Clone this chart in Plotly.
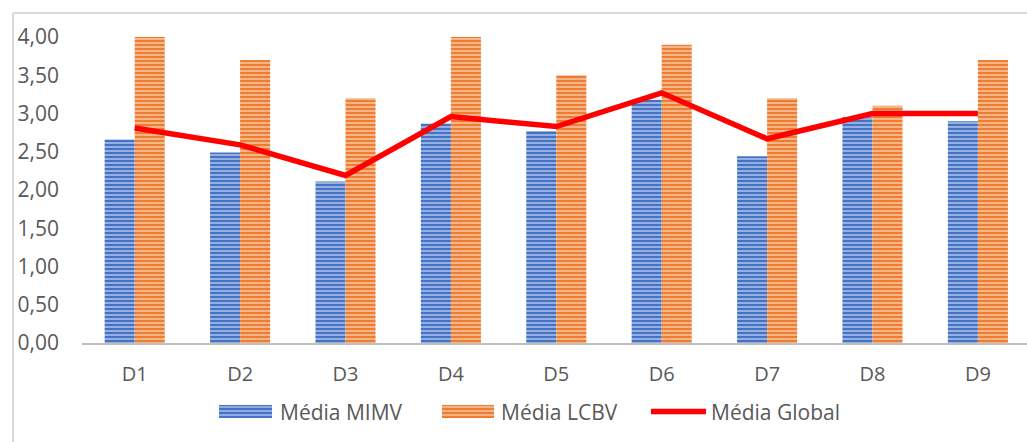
import plotly.graph_objects as go

# Category labels and series values
categorias = ["D1", "D2", "D3", "D4", "D5", "D6", "D7", "D8", "D9"]
media_mimv = [2.66, 2.49, 2.11, 2.87, 2.77, 3.18, 2.44, 2.95, 2.90]
media_lcbv = [4.00, 3.70, 3.20, 4.00, 3.50, 3.90, 3.20, 3.10, 3.70]
media_global = [2.81, 2.59, 2.19, 2.96, 2.83, 3.27, 2.67, 3.00, 3.00]
y_ticks = [0, 0.5, 1.0, 1.5, 2.0, 2.5, 3.0, 3.5, 4.0]

W, H = 1027, 442
ML, MR, MT, MB = 82, 0, 37, 99

BLUE, BLUE_LIGHT = "#4472C4", "#A9BFE8"
ORANGE, ORANGE_LIGHT = "#ED7D31", "#F7C4A0"
RED = "#FF0000"
TEXT = "#595959"
FONT = "Open Sans"


def px_x(p):
    return (p - ML) / (W - ML - MR)


def px_y(p):
    return (H - MB - p) / (H - MT - MB)


fig = go.Figure()
fig.add_trace(go.Bar(
    x=categorias, y=media_mimv, name="Média MIMV",
    marker=dict(color=BLUE, line=dict(width=0),
                pattern=dict(shape="-", fgcolor=BLUE_LIGHT, bgcolor=BLUE,
                             size=4, solidity=0.4, fillmode="replace")),
))
fig.add_trace(go.Bar(
    x=categorias, y=media_lcbv, name="Média LCBV",
    marker=dict(color=ORANGE, line=dict(width=0),
                pattern=dict(shape="-", fgcolor=ORANGE_LIGHT, bgcolor=ORANGE,
                             size=4, solidity=0.4, fillmode="replace")),
))
fig.add_trace(go.Scatter(
    x=categorias, y=media_global, name="Média Global", mode="lines",
    line=dict(color=RED, width=5.5),
))

shapes = []
# outer chart frame (top and left edges)
frame = dict(type="line", xref="paper", yref="paper",
             line=dict(color="#D9D9D9", width=2), layer="below")
shapes.append(dict(frame, x0=px_x(13), x1=px_x(W + 5), y0=px_y(13), y1=px_y(13)))
shapes.append(dict(frame, x0=px_x(13), x1=px_x(13), y0=px_y(13), y1=px_y(H + 5)))

# legend swatches
def striped_swatch(x0, x1, y0, y1, base, light):
    out = [dict(type="rect", xref="paper", yref="paper",
                x0=px_x(x0), x1=px_x(x1), y0=px_y(y0), y1=px_y(y1),
                fillcolor=base, line=dict(width=0))]
    yy = y0 + 2
    while yy < y1:
        out.append(dict(type="line", xref="paper", yref="paper",
                        x0=px_x(x0), x1=px_x(x1), y0=px_y(yy), y1=px_y(yy),
                        line=dict(color=light, width=1.5)))
        yy += 4
    return out

LEG_Y0, LEG_Y1 = 405, 418
shapes += striped_swatch(219, 272, LEG_Y0, LEG_Y1, BLUE, BLUE_LIGHT)
shapes += striped_swatch(442, 494, LEG_Y0, LEG_Y1, ORANGE, ORANGE_LIGHT)
shapes.append(dict(type="line", xref="paper", yref="paper",
                   x0=px_x(651), x1=px_x(706), y0=px_y(411.5), y1=px_y(411.5),
                   line=dict(color=RED, width=5.5)))

annotations = []
for label, xp in [("Média MIMV", 278), ("Média LCBV", 499), ("Média Global", 709)]:
    annotations.append(dict(text=label, xref="paper", yref="paper",
                            x=px_x(xp), y=px_y(412), xanchor="left", yanchor="middle",
                            showarrow=False, font=dict(family=FONT, size=21, color=TEXT)))

fig.update_layout(
    width=W, height=H,
    margin=dict(l=ML, r=MR, t=MT, b=MB, pad=0),
    paper_bgcolor="white", plot_bgcolor="white",
    barmode="group", bargap=0.43, bargroupgap=0,
    showlegend=False,
    separators=",.",
    font=dict(family=FONT, size=21, color=TEXT),
    shapes=shapes, annotations=annotations,
    xaxis=dict(
        range=[-0.5, (W - ML - MR) / 105.4 - 0.5],
        showline=True, linecolor="#BFBFBF", linewidth=2,
        showgrid=False, ticks="", ticklabelstandoff=12,
        tickfont=dict(family=FONT, size=20, color=TEXT),
    ),
    yaxis=dict(
        range=[0, 4.0], tickvals=y_ticks, tickformat=".2f",
        showgrid=False, zeroline=False, showline=False, ticks="",
        ticklabelstandoff=22,
        tickfont=dict(family=FONT, size=21, color=TEXT),
    ),
)

fig.write_html("out.html")
